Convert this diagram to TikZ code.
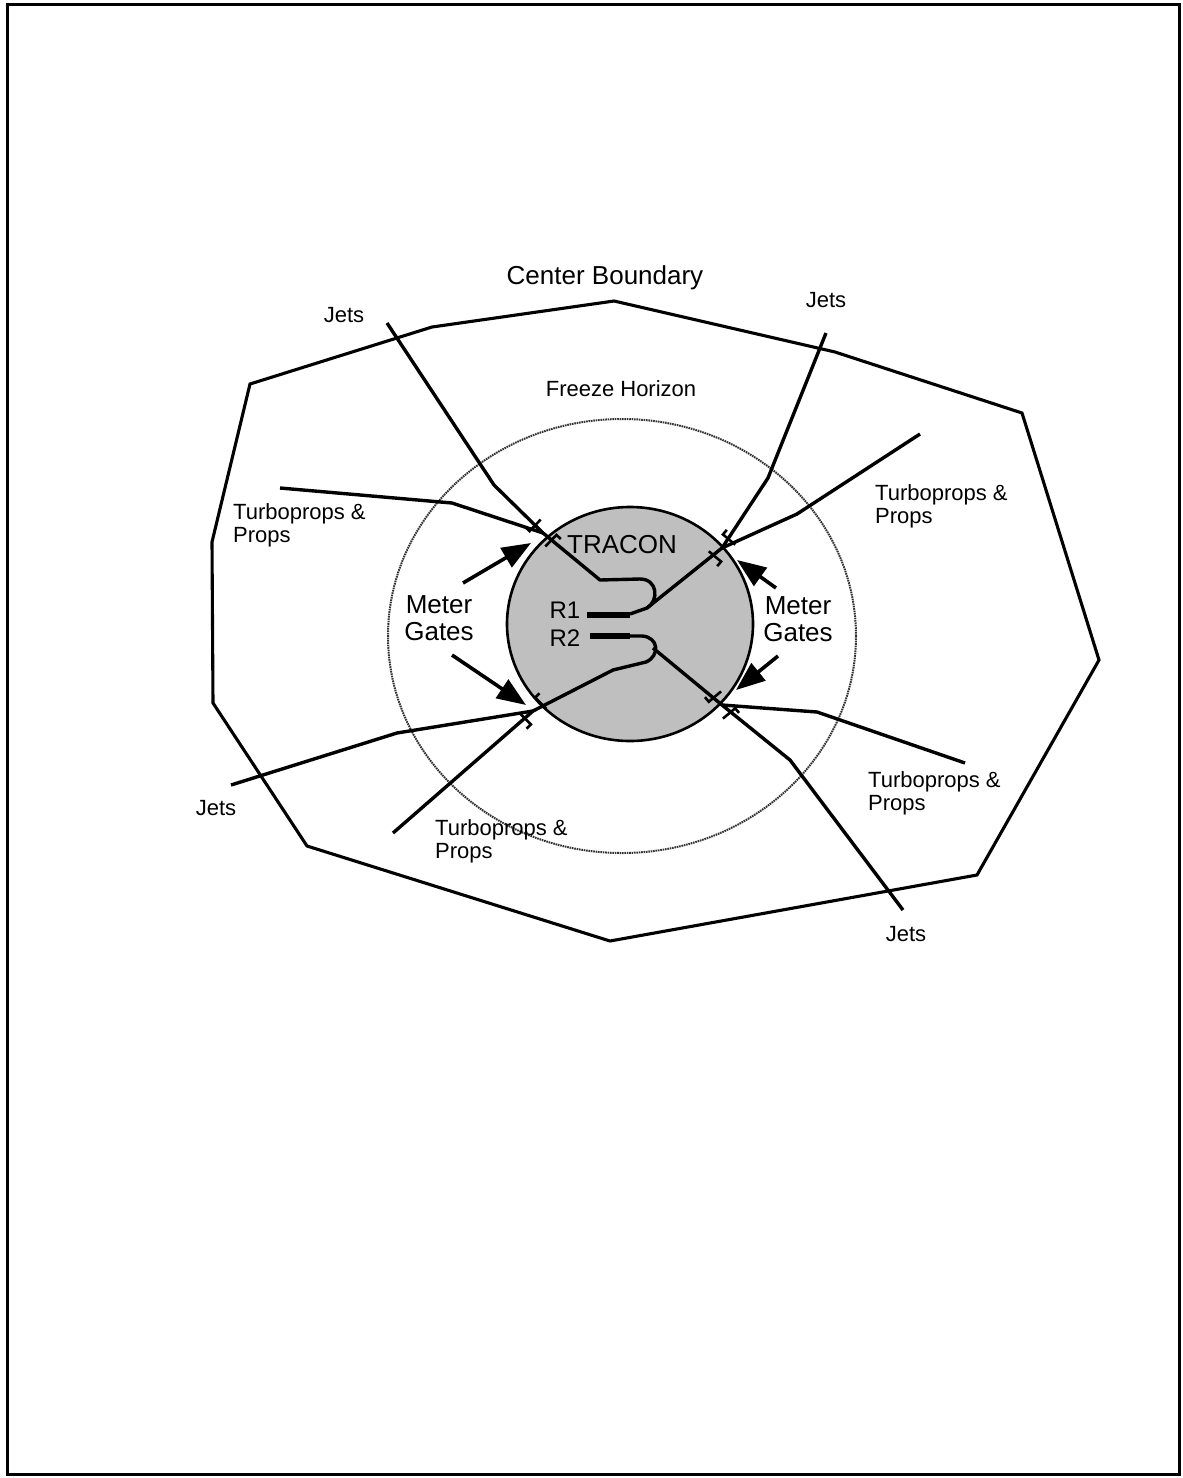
\documentclass[tikz,border=0pt]{standalone}
\usepackage{fontspec}
\setmainfont{Liberation Sans}
\usetikzlibrary{arrows.meta}
\tikzset{
  route/.style={line width=3.4pt, line join=round},
  boundary/.style={line width=3.1pt, line join=miter},
  freeze/.style={line width=2pt, black!80, dash pattern=on 1.6pt off 0.8pt},
  runway/.style={line width=6.5pt},
  meterarrow/.style={line width=3.6pt, -{Triangle[length=29pt,width=22pt]}},
  gatemark/.style={line width=2.6pt},
  lbl/.style={font=\fontsize{22}{23}\selectfont, inner sep=0pt},
  biglbl/.style={font=\fontsize{26}{27}\selectfont, inner sep=0pt},
}
\begin{document}
\begin{tikzpicture}[x=1pt,y=-1pt]
\useasboundingbox (0,0) rectangle (1183,1478);
% frame
\draw[line width=3.8pt] (7.5,4.5) rectangle (1179.5,1474.5);

% center boundary
\draw[boundary] (250,384) -- (432,327) -- (614,301) -- (835,352) -- (1022,413)
  -- (1099,660) -- (977,875) -- (610,941) -- (307,846) -- (213,703) -- (212,542) -- cycle;

% freeze horizon
\draw[freeze] (622,636) ellipse [x radius=234, y radius=217];

% TRACON
\draw[line width=2.6pt, fill=black!25] (630,624) ellipse [x radius=123, y radius=117];

% gates
\coordinate (gUL) at (543,533);
\coordinate (gUR) at (722,548);
\coordinate (gLL) at (533,711);
\coordinate (gLR) at (722,705);

% upper-left routes
\draw[route] (387,323) -- (494,485) -- (gUL) -- (600,580) -- (640,579)
  .. controls (658,579) and (659,601) .. (647,608);
\draw[route] (280,488) -- (452,503) -- (gUL);
% upper-right routes
\draw[route] (826,333) -- (768,478) -- (gUR);
\draw[route] (920,434) -- (797,514) -- (gUR) -- (647,608) -- (630,614);
% lower-right routes
\draw[route] (965,763) -- (817,712) -- (gLR);
\draw[route] (903,910) -- (790,760) -- (gLR) -- (653,648);
% lower-left routes
\draw[route] (231,785) -- (397,733) -- (gLL);
\draw[route] (393,833) -- (gLL) -- (613,670) -- (646,662)
  .. controls (660,656) and (659,637) .. (642,636) -- (630,636);

% runways
\draw[runway] (587,615) -- (630,615);
\draw[runway] (590,636) -- (630,636);

% gate marks
\foreach \g/\a in {gUL/-134, gUR/-40, gLL/135, gLR/40}{
  \begin{scope}[shift={(\g)}, rotate=\a]
    \draw[gatemark] (-8,11) -- (8,11) -- (8,17);
    \draw[gatemark] (-8,-17) -- (-8,-11) -- (8,-11);
  \end{scope}
}

% meter gate arrows
\coordinate (aULs) at (463,583); \coordinate (aULt) at (531,543);
\coordinate (aLLs) at (452,655); \coordinate (aLLt) at (526,705);
\coordinate (aURs) at (776,588); \coordinate (aURt) at (737,560);
\coordinate (aLRs) at (778,656); \coordinate (aLRt) at (736,690);
\draw[meterarrow] (aULs) -- (aULt);
\draw[meterarrow] (aLLs) -- (aLLt);
\draw[meterarrow] (aURs) -- (aURt);
\draw[meterarrow] (aLRs) -- (aLRt);

% labels
\node[biglbl] (cb) at (605,278) {Center Boundary};
\node[lbl] (fh) at (621,389) {Freeze Horizon};
\node[biglbl] (tr) at (622,545) {TRACON};
\node[biglbl, align=center] (mgl) at (439,618) {Meter\\Gates};
\node[biglbl, align=center] (mgr) at (798,619) {Meter\\Gates};
\node[biglbl, font=\fontsize{24}{25}\selectfont] (r1) at (565,610) {R1};
\node[biglbl, font=\fontsize{24}{25}\selectfont] (r2) at (565,638) {R2};
\node[lbl] (j1) at (344,315) {Jets};
\node[lbl] (j2) at (826,300) {Jets};
\node[lbl] (j3) at (216,808) {Jets};
\node[lbl] (j4) at (906,934) {Jets};
\node[lbl, align=left, anchor=north west] (t1) at (233,503) {Turboprops \&\\Props};
\node[lbl, align=left, anchor=north west] (t2) at (875,484) {Turboprops \&\\Props};
\node[lbl, align=left, anchor=north west] (t3) at (868,771) {Turboprops \&\\Props};
\node[lbl, align=left, anchor=north west] (t4) at (435,819) {Turboprops \&\\Props};
\end{tikzpicture}
\end{document}
